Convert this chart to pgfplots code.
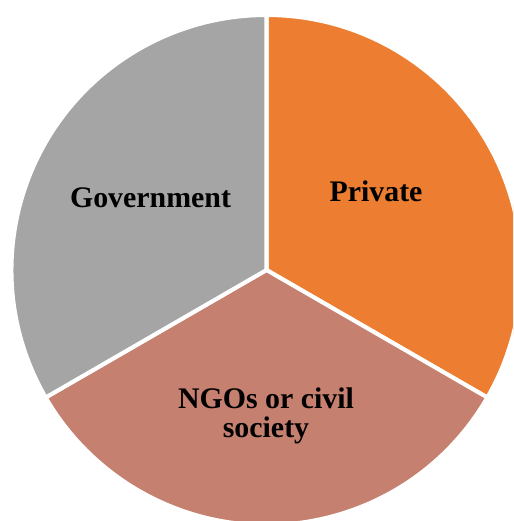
\documentclass[border=0pt]{standalone}
\usepackage{pgfplots}
\pgfplotsset{compat=1.18}
\usepackage{fontspec}
\setmainfont{Liberation Serif}
\definecolor{cPriv}{HTML}{ED7D31}
\definecolor{cNGO}{HTML}{C5806F}
\definecolor{cGov}{HTML}{A5A5A5}
% shares (equal thirds)
\def\vPriv{33.33}
\def\vNGO{33.33}
\def\vGov{33.33}
\pgfmathsetmacro{\tot}{\vPriv+\vNGO+\vGov}
\pgfmathsetmacro{\aA}{90}
\pgfmathsetmacro{\aB}{\aA-360*\vPriv/\tot}
\pgfmathsetmacro{\aC}{\aB-360*\vNGO/\tot}
\pgfmathsetmacro{\aD}{\aC-360*\vGov/\tot}
\begin{document}
\begin{tikzpicture}
\begin{axis}[
  scale only axis, width=10.26cm, height=10.42cm,
  xmin=0, xmax=513, ymin=0, ymax=521,
  hide axis, clip=true,
]
\path (rel axis cs:0,0) rectangle (rel axis cs:1,1);
\fill[cPriv, draw=white, line width=2.3pt, line join=miter] (axis cs:266.5,251) -- +(\aA:5.1cm) arc[start angle=\aA, end angle=\aB, radius=5.1cm] -- cycle;
\fill[cNGO, draw=white, line width=2.3pt] (axis cs:266.5,251) -- +(\aB:5.1cm) arc[start angle=\aB, end angle=\aC, radius=5.1cm] -- cycle;
\fill[cGov, draw=white, line width=2.3pt] (axis cs:266.5,251) -- +(\aC:5.1cm) arc[start angle=\aC, end angle=\aD, radius=5.1cm] -- cycle;
\node[anchor=base, font=\fontsize{17}{17.5}\selectfont\bfseries] at (axis cs:150.5,313) {Government};
\node[anchor=base, font=\fontsize{17}{17.5}\selectfont\bfseries] at (axis cs:376,319) {Private};
\node[anchor=base, font=\fontsize{17}{17.5}\selectfont\bfseries] at (axis cs:266,112) {NGOs or civil};
\node[anchor=base, font=\fontsize{17}{17.5}\selectfont\bfseries] at (axis cs:266,83) {society};
\end{axis}
\end{tikzpicture}
\end{document}
